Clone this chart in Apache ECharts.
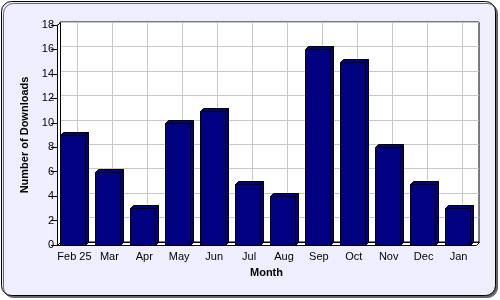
<!DOCTYPE html>
<html><head><meta charset="utf-8">
<script src="https://cdn.jsdelivr.net/npm/echarts@6/dist/echarts.min.js"></script>
<style>html,body{margin:0;padding:0;background:#fff}#c{width:500px;height:300px}</style>
</head><body><div id="c"></div>
<script>
const months = ['Feb 25','Mar','Apr','May','Jun','Jul','Aug','Sep','Oct','Nov','Dec','Jan'];
const downloads = [9,6,3,10,11,5,4,16,15,8,5,3];
const yMin = 0, yMax = 18, yStep = 2;
const xTitle = 'Month';
const yTitle = 'Number of Downloads';

const D = 3; // 3D depth
const FONT = 'Liberation Sans';
const chart = echarts.init(document.getElementById('c'), null, {renderer:'canvas'});

function barItem(params, api) {
  const base = api.coord([api.value(0), 0]);
  const top = api.coord([api.value(0), api.value(1)]);
  const w = 25;
  const x0 = Math.round(top[0] - 14) + 0.5, x1 = x0 + w;
  const yt = Math.round(top[1]) + 0.5, yb = Math.round(base[1]) + 0.5;
  const st = {fill:'#000080', stroke:'#000', lineWidth:1};
  return {type:'group', children:[
    {type:'polygon', shape:{points:[[x0,yt],[x0+D,yt-D],[x1+D,yt-D],[x1,yt]]}, style:st},
    {type:'polygon', shape:{points:[[x1,yt],[x1+D,yt-D],[x1+D,yb-D],[x1,yb]]}, style:st},
    {type:'rect', shape:{x:x0, y:yt, width:w, height:yb-yt}, style:st}
  ]};
}
function vGrid(params, api) {
  const b = api.coord([api.value(0), yMin]);
  const t = api.coord([api.value(0), yMax]);
  const x = Math.round(b[0]) + D + 0.5;
  return {type:'line', shape:{x1:x, y1:Math.round(t[1]) - D, x2:x, y2:Math.round(b[1]) - D}, style:{stroke:'#c8c8c8', lineWidth:1}};
}
function walls(params, api) {
  const bw = api.size([1,0])[0];
  const l = api.coord([0, yMin]), r = api.coord([months.length-1, yMin]), t = api.coord([0, yMax]);
  const xl = Math.round(l[0] - bw/2) + 0.5, xr = Math.round(r[0] + bw/2) + 0.5;
  const yb = Math.round(l[1]) + 0.5, yt = Math.round(t[1]) + 0.5;
  const st = {fill:'#fff', stroke:'#000', lineWidth:1};
  return {type:'group', children:[
    {type:'polygon', shape:{points:[[xl,yt],[xl+D,yt-D],[xl+D,yb-D],[xl,yb]]}, style:st},
    {type:'polygon', shape:{points:[[xl,yb],[xl+D,yb-D],[xr+D,yb-D],[xr,yb]]}, style:st}
  ]};
}

const lbl = {color:'#000', fontFamily:FONT, fontSize:11};
chart.setOption({
  animation:false,
  backgroundColor:'#fff',
  graphic:[{type:'rect', z:-10, shape:{x:1.5,y:1.5,width:494,height:294,r:10},
    style:{fill:'#eeeeff', stroke:'#000', lineWidth:1, shadowColor:'#666', shadowOffsetX:2, shadowOffsetY:2, shadowBlur:0}}],
  grid:[
    {left:60, right:21, top:22, bottom:58, show:true, backgroundColor:'#fff', borderColor:'#000', borderWidth:1},
    {left:57, right:24, top:25, bottom:55}
  ],
  xAxis:[
    {gridIndex:0, type:'category', data:months, show:false},
    {gridIndex:1, type:'category', data:months,
     axisLine:{lineStyle:{color:'#000'}},
     axisTick:{alignWithLabel:true, length:4, lineStyle:{color:'#000'}},
     axisLabel:Object.assign({margin:6, interval:0}, lbl),
     name:xTitle, nameLocation:'middle', nameGap:22,
     nameTextStyle:{color:'#000', fontFamily:FONT, fontSize:11, fontWeight:'bold'}}
  ],
  yAxis:[
    {gridIndex:0, type:'value', min:yMin, max:yMax, interval:yStep,
     axisLine:{show:false}, axisTick:{show:false}, axisLabel:{show:false},
     splitLine:{lineStyle:{color:'#c8c8c8', width:1}}},
    {gridIndex:1, type:'value', min:yMin, max:yMax, interval:yStep,
     axisLine:{show:true, lineStyle:{color:'#000'}},
     axisTick:{show:true, length:6, lineStyle:{color:'#000'}},
     axisLabel:Object.assign({margin:3}, lbl),
     splitLine:{show:false},
     name:yTitle, nameLocation:'middle', nameGap:27, nameRotate:90,
     nameTextStyle:{color:'#000', fontFamily:FONT, fontSize:11, fontWeight:'bold'}}
  ],
  series:[
    {type:'custom', xAxisIndex:1, yAxisIndex:1, z:1, renderItem:walls, data:[[0]], silent:true},
    {type:'custom', xAxisIndex:1, yAxisIndex:1, z:2, renderItem:vGrid, data:months.map((m,i)=>[i]), silent:true},
    {type:'custom', xAxisIndex:1, yAxisIndex:1, z:3, renderItem:barItem, data:downloads.map((v,i)=>[i,v])}
  ]
});
</script></body></html>
